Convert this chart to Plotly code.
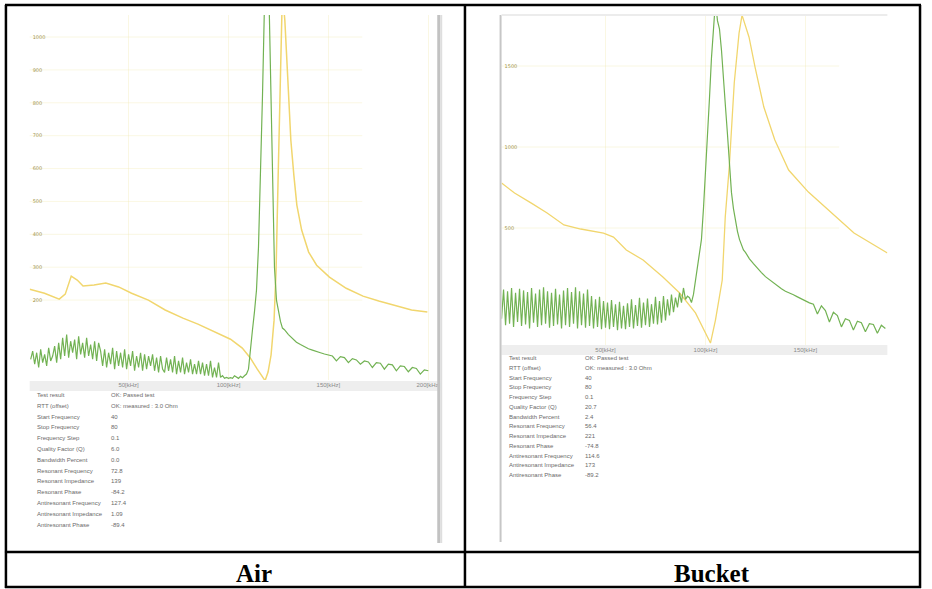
import plotly.graph_objects as go

W, H = 932, 589

# ---------------- DATA ----------------
# Air panel: impedance (yellow) and phase-like trace (green), x in kHz
air_imp_x = [0.5, 7.9, 15.3, 18.3, 21.3, 24.3, 27.2, 32.7, 38.6, 45, 51.5, 59.9, 68.3, 77.2, 84.7, 93.6,
             101, 106.9, 110.9, 114.4, 116.8, 118.3, 119.8, 121.3, 122.8, 123.8, 124.8, 125.7, 126.7,
             127.5, 128.2, 129.7, 131.2, 132.7, 134.2, 136.6, 140.1, 144.1, 150.5, 158.9, 167.3, 175.2,
             183.7, 191.6, 199.5]
air_imp_y = [233, 221, 203, 218, 273, 261, 243, 246, 252, 240, 221, 200, 170, 145, 127, 103,
             81, 54, 24, -10, -34, -45, -19, 33, 139, 291, 565, 838, 1066,
             1100, 1050, 869, 686, 580, 489, 413, 346, 306, 270, 236, 212, 197,
             182, 170, 164]

air_ph_x = list(range(1, 128)) + list(range(128, 201, 2))
air_ph_y = [
    # 1-14
    20, 45, 5, 40, -5, 50, 10, 35, 0, 55, 15, 30, 60, 10,
    # 15-35
    70, 20, 85, 30, 95, 25, 75, 40, 80, 20, 90, 35, 70, 25, 85, 30, 65, 20, 75, 15, 70,
    # 36-60
    45, 0, 50, -5, 40, 5, 55, -10, 45, 0, 40, -5, 50, -10, 35, 0, 45, -15, 30, -5, 40, -15, 35, -10, 30,
    # 61-85
    0, 35, -15, 25, -20, 30, -10, -20, 25, -15, 20, -20, 30, -25, 15, -20, 25, -25, 10, -20, 20, -25, 5, -25, 15,
    # 86-110
    -25, 10, -30, 5, -30, 15, -35, -5, -35, 10, -35, -30, -38, -35, -38, -36, -38, -30, -35, -38, -32, -36, -30, -25, -10,
    # 111-127
    60, 110, 165, 230, 360, 560, 820, 1100, 1350, 1200, 900, 580, 300, 200, 160, 135, 115,
    # 128-200 step 2
    110, 95, 82, 72, 65, 58, 52, 48, 45, 40, 36, 33, 30, 15, 28, 25, 10, 22, 18, 5, 15, 12, -5, 10, 8,
    -10, 5, 3, -15, 0, -2, -18, -5, -8, -25, -12, -15,
]

# Bucket panel
bkt_imp_x = [-2, 4.5, 12.9, 20.8, 29.2, 37.6, 49, 54, 60.4, 68.8, 78.7, 87.1, 95, 100, 102.5, 105,
             107, 108.4, 109.9, 111.9, 114.4, 116.8, 118.3, 121.8, 124.8, 129.2, 134.7, 141.6, 151.5,
             161.4, 174.3, 191]
bkt_imp_y = [778, 716, 654, 593, 519, 494, 469, 444, 364, 303, 198, 99, -24, -148, -210, -68,
             74, 179, 568, 876, 1395, 1703, 1814, 1678, 1493, 1247, 1043, 858, 722,
             611, 469, 346]

bkt_ph_x = list(range(-2, 121)) + list(range(122, 192, 2))
bkt_ph_y = [
    # -2..9
    -60, 120, -100, 110, -90, 130, -110, 100, -80, 125, -105, 115,
    # 10..29
    -95, 105, -120, 130, -85, 95, -110, 120, -100, 135, -90, 110, -115, 100, -105, 125, -95, 90, -120, 115,
    # 30..49
    -100, 130, -110, 105, -90, 135, -120, 110, -100, 95, -115, 120, -105, 80, -120, 60, -110, 75, -125, 50,
    # 50..69
    -115, 40, -125, 55, -110, 30, -130, 45, -120, 20, -125, 35, -110, 60, -120, 25, -105, 70, -115, 40,
    # 70..92
    -100, 65, -110, 30, -90, 75, -95, 50, -85, 80, -70, 60, -40, 90, -20, 70, 10, 100, 40, 130, 60, 80, 70,
    # 93..120
    40, 90, 170, 250, 330, 430, 620, 850, 1000, 1300, 1550, 1750, 1900, 1780, 1730, 1600, 1450, 1250,
    1080, 880, 720, 620, 540, 480, 430, 390, 365, 350,
    # 122..190 step 2
    310, 280, 250, 225, 200, 180, 160, 140, 125, 110, 100, 88, 75, 62, 50, 38, 30, -30, 20, -10,
    -80, -20, -40, -110, -60, -70, -130, -75, -85, -140, -90, -95, -150, -100, -120,
]

air_y_ticks = [200, 300, 400, 500, 600, 700, 800, 900, 1000]
bkt_y_ticks = [500, 1000, 1500]
air_x_ticks = [50, 100, 150, 200]
bkt_x_ticks = [50, 100, 150]
x_tick_text = ["50[kHz]", "100[kHz]", "150[kHz]", "200[kHz]"]

row_labels = ["Test result", "RTT (offset)", "Start Frequency", "Stop Frequency", "Frequency Step",
              "Quality Factor (Q)", "Bandwidth Percent", "Resonant Frequency", "Resonant Impedance",
              "Resonant Phase", "Antiresonant Frequency", "Antiresonant Impedance", "Antiresonant Phase"]
air_values = ["OK: Passed test", "OK: measured : 3.0 Ohm", "40", "80", "0.1", "6.0", "0.0",
              "72.8", "139", "-84.2", "127.4", "1.09", "-89.4"]
bkt_values = ["OK: Passed test", "OK: measured : 3.0 Ohm", "40", "80", "0.1", "20.7", "2.4",
              "56.4", "221", "-74.8", "114.6", "173", "-89.2"]
captions = ["Air", "Bucket"]

# ---------------- FIGURE ----------------
def px(x):
    return x / W

def py(y):
    return 1 - y / H

YELLOW = "#f1d66e"
GREEN = "#72b253"
GRID = "rgba(240,232,175,0.35)"
TICKC = "#a2954e"

fig = go.Figure()
fig.add_trace(go.Scatter(x=air_imp_x, y=air_imp_y, mode="lines", line=dict(color=YELLOW, width=1.5),
                         xaxis="x", yaxis="y", hoverinfo="skip"))
fig.add_trace(go.Scatter(x=air_ph_x, y=air_ph_y, mode="lines", line=dict(color=GREEN, width=1.2),
                         xaxis="x", yaxis="y", hoverinfo="skip"))
fig.add_trace(go.Scatter(x=bkt_imp_x, y=bkt_imp_y, mode="lines", line=dict(color=YELLOW, width=1.3),
                         xaxis="x2", yaxis="y2", hoverinfo="skip"))
fig.add_trace(go.Scatter(x=bkt_ph_x, y=bkt_ph_y, mode="lines", line=dict(color=GREEN, width=1.2),
                         xaxis="x2", yaxis="y2", hoverinfo="skip"))

xcommon = dict(showgrid=True, gridcolor=GRID, gridwidth=1, zeroline=False, showline=False, ticks="",
               tickfont=dict(size=6, color="#8a8a8a", family="Liberation Sans"))
ycommon = dict(showgrid=False, zeroline=False, showline=False, ticks="", ticklabelposition="inside",
               tickfont=dict(size=5, color=TICKC, family="DejaVu Sans"))

fig.update_layout(
    width=W, height=H, autosize=False, margin=dict(l=0, r=0, t=0, b=0),
    paper_bgcolor="white", plot_bgcolor="white", showlegend=False,
    xaxis=dict(domain=[px(30), px(435)], range=[0.5, 201], anchor="y",
               tickvals=air_x_ticks, ticktext=x_tick_text[:len(air_x_ticks)], **xcommon),
    yaxis=dict(domain=[py(380), py(15)], range=[-43, 1067], anchor="x",
               tickvals=air_y_ticks, ticktext=[str(v) for v in air_y_ticks], **ycommon),
    xaxis2=dict(domain=[px(507), px(897)], range=[-2, 191], anchor="y2",
                tickvals=bkt_x_ticks, ticktext=x_tick_text[:len(bkt_x_ticks)], **xcommon),
    yaxis2=dict(domain=[py(345), py(15)], range=[-222, 1815], anchor="x2",
                tickvals=bkt_y_ticks, ticktext=[str(v) for v in bkt_y_ticks], **ycommon),
)

shapes = []
# partial horizontal grid lines
for v in air_y_ticks:
    shapes.append(dict(type="line", xref="x domain", yref="y", x0=0.0, x1=0.83, y0=v, y1=v,
                       line=dict(color=GRID, width=1), layer="below"))
for v in bkt_y_ticks:
    shapes.append(dict(type="line", xref="x2 domain", yref="y2", x0=0.0, x1=0.875, y0=v, y1=v,
                       line=dict(color=GRID, width=1), layer="below"))

def prect(x0, y0, x1, y1, color, layer="below"):
    shapes.append(dict(type="rect", xref="paper", yref="paper", x0=px(x0), x1=px(x1), y0=py(y1), y1=py(y0),
                       fillcolor=color, line=dict(width=0), layer=layer))

# x-axis bands
prect(30, 381, 445, 391, "#eeeeee")
prect(507, 345, 897, 355, "#eeeeee")
# window edges of the screenshots
prect(442, 15, 445, 543, "#c2c2c2", "above")
prect(445, 15, 447, 543, "#dedede", "above")
prect(505, 15, 507, 542, "#c6c6c6", "above")
prect(507, 14, 897, 16, "#ececec", "above")

# table lines
def pline(x0, y0, x1, y1, w=2.5):
    shapes.append(dict(type="line", xref="paper", yref="paper", x0=px(x0), x1=px(x1), y0=py(y0), y1=py(y1),
                       line=dict(color="black", width=w), layer="above"))

pline(5, 5, 931, 5)
pline(5, 587, 931, 587)
pline(6, 5, 6, 588)
pline(930, 5, 930, 588)
pline(470, 5, 470, 588)
pline(5, 552, 931, 552)

fig.update_layout(shapes=shapes)

ann = []
tfont = dict(size=6, color="#6a6a6a", family="Liberation Sans")
for i, (lab, val) in enumerate(zip(row_labels, air_values)):
    yy = 395 + i * 10.8
    ann.append(dict(x=px(35), y=py(yy), xref="paper", yref="paper", text=lab, showarrow=False,
                    xanchor="left", yanchor="middle", font=tfont))
    ann.append(dict(x=px(110), y=py(yy), xref="paper", yref="paper", text=val, showarrow=False,
                    xanchor="left", yanchor="middle", font=tfont))
for i, (lab, val) in enumerate(zip(row_labels, bkt_values)):
    yy = 358 + i * 9.75
    ann.append(dict(x=px(513), y=py(yy), xref="paper", yref="paper", text=lab, showarrow=False,
                    xanchor="left", yanchor="middle", font=tfont))
    ann.append(dict(x=px(589), y=py(yy), xref="paper", yref="paper", text=val, showarrow=False,
                    xanchor="left", yanchor="middle", font=tfont))

cap_font = dict(size=25, color="black", family="Liberation Serif")
ann.append(dict(x=px(257), y=py(573), xref="paper", yref="paper", text="<b>" + captions[0] + "</b>",
                showarrow=False, xanchor="center", yanchor="middle", font=cap_font))
ann.append(dict(x=px(720), y=py(573), xref="paper", yref="paper", text="<b>" + captions[1] + "</b>",
                showarrow=False, xanchor="center", yanchor="middle", font=cap_font))
fig.update_layout(annotations=ann)

html = fig.to_html(
    full_html=True,
    include_plotlyjs=True,
    config={"displayModeBar": False, "responsive": False},
)
html = html.replace("<head>", "<head><style>html,body{margin:0;padding:0;overflow:hidden;}</style>", 1)
with open("out.html", "w", encoding="utf-8") as f:
    f.write(html)
